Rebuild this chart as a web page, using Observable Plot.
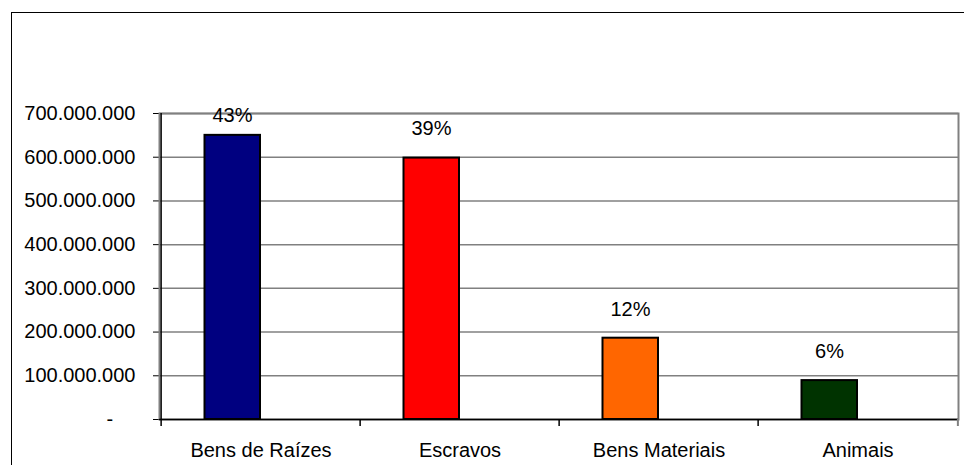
<!DOCTYPE html>
<html><head><meta charset="utf-8">
<script src="https://cdn.jsdelivr.net/npm/d3@7"></script>
<script src="https://cdn.jsdelivr.net/npm/@observablehq/plot@0.6"></script>
<style>
html,body{margin:0;padding:0;background:#fff;overflow:hidden;width:964px;height:465px;}
#wrap{position:relative;width:964px;height:465px;overflow:hidden;}
#box{position:absolute;left:11px;top:12px;width:1000px;height:500px;border-left:1.5px solid #000;border-top:1.5px solid #000;}
#chart{position:absolute;left:0;top:0;}
</style></head><body>
<div id="wrap"><div id="box"></div><div id="chart"></div></div>
<script>
const categories = ["Bens de Raízes", "Escravos", "Bens Materiais", "Animais"];
const values = [650e6, 598e6, 186e6, 89e6];
const percentLabels = ["43%", "39%", "12%", "6%"];
const barColors = ["#000080", "#FF0000", "#FF6600", "#003300"];
const yTicks = [0, 100e6, 200e6, 300e6, 400e6, 500e6, 600e6, 700e6];

const data = categories.map((c, i) => ({category: c, value: values[i], label: percentLabels[i], color: barColors[i]}));
const fmt = d3.formatLocale({thousands: ".", grouping: [3], decimal: ",", currency: ["", ""]}).format(",.0f");
const tickFormat = d => d === 0 ? "-\u2007\u2007" : fmt(d);

const W = 964, H = 465, mL = 159, mR = 6, mT = 113, mB = 46;
const half = (W - mL - mR) / categories.length / 2;

const chart = Plot.plot({
  width: W, height: H,
  marginLeft: mL, marginRight: mR, marginTop: mT, marginBottom: mB,
  style: {fontFamily: "'Liberation Sans', Arial, sans-serif", fontSize: "20px", color: "#000", background: "transparent", overflow: "visible"},
  x: {type: "band", domain: categories, padding: 0, tickSize: 0, tickPadding: 23, label: null},
  y: {domain: [0, 700e6], ticks: yTicks, tickFormat, tickSize: 6, tickPadding: 18, label: null},
  color: {type: "identity"},
  marks: [
    Plot.gridY(yTicks.filter(d => d > 0), {stroke: "#808080", strokeOpacity: 1, strokeWidth: 1.5}),
    Plot.frame({stroke: "#808080", strokeWidth: 2}),
    Plot.barY(data, {x: "category", y: "value", fill: "color", stroke: "black", strokeWidth: 2, insetLeft: 43.5, insetRight: 100}),
    Plot.ruleY([0], {stroke: "black", strokeWidth: 1.5}),
    Plot.ruleX([categories[0]], {stroke: "black", strokeWidth: 1.5, dx: -half}),
    Plot.ruleX(categories, {x: d => d, y1: 0, y2: 0, insetBottom: -7, stroke: "black", strokeWidth: 1.5, dx: -half}),
    Plot.ruleX([categories[categories.length - 1]], {x: d => d, y1: 0, y2: 0, insetBottom: -7, stroke: "#808080", strokeWidth: 2, dx: half}),
    Plot.text(data, {x: "category", y: d => Math.min(d.value, 630e6), text: "label", dx: -28.5, dy: -29, fontSize: 20, fill: "black"})
  ]
});
document.getElementById("chart").appendChild(chart);
</script>
</body></html>
